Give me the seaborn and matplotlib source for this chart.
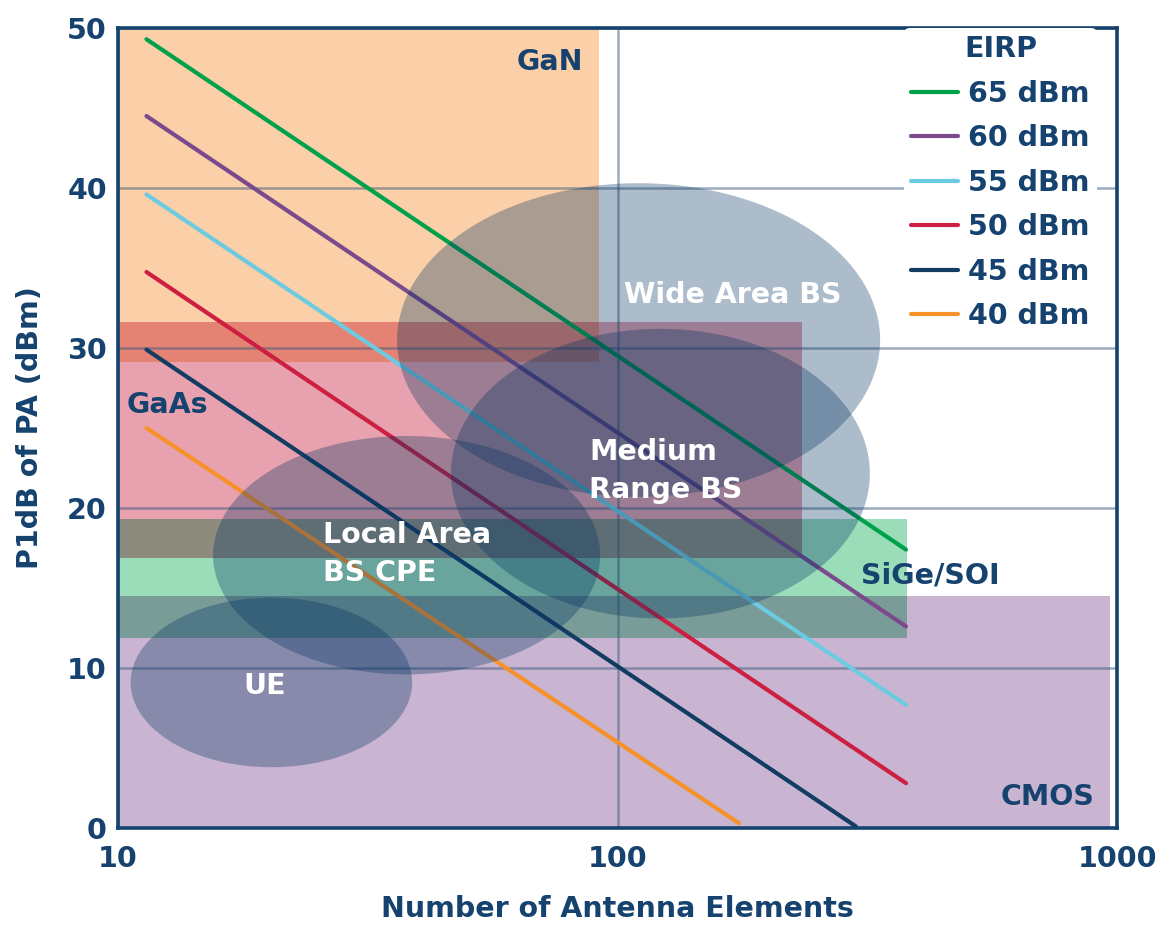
import numpy as np
import pandas as pd
import matplotlib
matplotlib.use("Agg")
import matplotlib.pyplot as plt
from matplotlib.lines import Line2D
from matplotlib.colors import to_rgb
import seaborn as sns

# ---------------- data ----------------
x_ticks = [10, 100, 1000]
x_tick_labels = ["10", "100", "1000"]
y_ticks = [0, 10, 20, 30, 40, 50]

eirp_labels = ["65 dBm", "60 dBm", "55 dBm", "50 dBm", "45 dBm", "40 dBm"]
eirp_colors = ["#00a14b", "#7b4a8c", "#6ccbe0", "#cc1f41", "#133c63", "#f7922a"]
line_n_start = [11.4, 11.4, 11.4, 11.4, 11.4, 11.4]
line_n_end = [378, 378, 378, 378, 300, 175]
line_p_start = [49.3, 44.5, 39.6, 34.75, 29.9, 25.0]
line_p_end = [17.4, 12.6, 7.7, 2.8, 0.1, 0.3]

tech_names = ["GaN", "GaAs", "SiGe/SOI", "CMOS"]
tech_n_min = [10, 10, 10, 10]
tech_n_max = [92, 234, 379, 970]
tech_p_min = [29.1, 16.9, 11.9, 0.0]
tech_p_max = [50.0, 31.6, 19.3, 14.5]
tech_colors = ["#fbd0a8", "#e8a1ae", "#9bdcb9", "#c9b5d1"]

app_names = ["Wide Area BS", "Medium Range BS", "Local Area BS CPE", "UE"]
app_n_min = [36.2, 46.4, 15.5, 10.6]
app_n_max = [335.5, 320.0, 92.3, 38.8]
app_p_min = [20.7, 13.1, 9.6, 3.8]
app_p_max = [40.3, 31.2, 24.5, 14.4]

NAVY = "#15426e"

# ---------------- style ----------------
sns.set_theme(style="white")
plt.rcParams["font.family"] = ["DejaVu Sans"]
plt.rcParams["font.weight"] = "bold"
plt.rcParams["axes.labelweight"] = "bold"
FS = 20.5

fig, ax = plt.subplots(figsize=(11.72, 9.34), dpi=100)
fig.subplots_adjust(left=0.1007, right=0.9531, top=0.970, bottom=0.1135)
ax.set_xscale("log")

# technology regions (multiply-blended overlaps)
for i in range(len(tech_names)):
    ax.fill_between([tech_n_min[i], tech_n_max[i]], tech_p_min[i], tech_p_max[i],
                    color=tech_colors[i], lw=0, zorder=1)
for i in range(len(tech_names)):
    for j in range(i + 1, len(tech_names)):
        x0 = max(tech_n_min[i], tech_n_min[j]); x1 = min(tech_n_max[i], tech_n_max[j])
        y0 = max(tech_p_min[i], tech_p_min[j]); y1 = min(tech_p_max[i], tech_p_max[j])
        if x1 > x0 and y1 > y0:
            c = tuple(a * b for a, b in zip(to_rgb(tech_colors[i]), to_rgb(tech_colors[j])))
            ax.fill_between([x0, x1], y0, y1, color=c, lw=0, zorder=1.1)

# EIRP lines
rows = []
for lab, n0, n1, p0, p1 in zip(eirp_labels, line_n_start, line_n_end, line_p_start, line_p_end):
    rows.append({"N": n0, "P": p0, "EIRP": lab})
    rows.append({"N": n1, "P": p1, "EIRP": lab})
df = pd.DataFrame(rows)
sns.lineplot(data=df, x="N", y="P", hue="EIRP", hue_order=eirp_labels,
             palette=dict(zip(eirp_labels, eirp_colors)), estimator=None, sort=False,
             lw=3, legend=False, ax=ax, zorder=2)

# application ellipses (in log-x space)
t = np.linspace(0, 2 * np.pi, 500)
for i in range(len(app_names)):
    l0, l1 = np.log10(app_n_min[i]), np.log10(app_n_max[i])
    cx, a = (l0 + l1) / 2, (l1 - l0) / 2
    cy, b = (app_p_min[i] + app_p_max[i]) / 2, (app_p_max[i] - app_p_min[i]) / 2
    ax.fill(10 ** (cx + a * np.cos(t)), cy + b * np.sin(t), color="#003160",
            alpha=0.32, lw=0, zorder=3)

# labels
txt = dict(fontsize=FS, fontweight="bold", zorder=4)
ax.text(73.3, 47.9, "GaN", color=NAVY, ha="center", va="center", **txt)
ax.text(10.42, 26.45, "GaAs", color=NAVY, ha="left", va="center", **txt)
ax.text(170, 33.3, "Wide Area BS", color="white", ha="center", va="center", **txt)
ax.text(87.7, 22.3, "Medium\nRange BS", color="white", ha="left", va="center",
        linespacing=1.45, **txt)
ax.text(25.7, 17.1, "Local Area\nBS CPE", color="white", ha="left", va="center",
        linespacing=1.45, **txt)
ax.text(19.7, 8.9, "UE", color="white", ha="center", va="center", **txt)
ax.text(307, 15.77, "SiGe/SOI", color=NAVY, ha="left", va="center", **txt)
ax.text(727, 1.96, "CMOS", color=NAVY, ha="center", va="center", **txt)

# axes
ax.set_xlim(10, 1000)
ax.set_ylim(0, 50)
ax.set_xticks(x_ticks)
ax.set_xticklabels(x_tick_labels)
ax.xaxis.set_minor_locator(matplotlib.ticker.NullLocator())
ax.set_yticks(y_ticks)
ax.tick_params(axis="both", length=0, labelsize=FS, labelcolor=NAVY)
ax.tick_params(axis="x", pad=12)
ax.tick_params(axis="y", pad=8)
for lab in ax.get_xticklabels() + ax.get_yticklabels():
    lab.set_fontweight("bold")

ax.set_axisbelow("line")
ax.grid(True, which="major", color="#3a5a7a", alpha=0.5, lw=1.8)
for s in ax.spines.values():
    s.set_color(NAVY)
    s.set_linewidth(2.6)
    s.set_zorder(5)

ax.set_xlabel("Number of Antenna Elements", fontsize=FS, color=NAVY,
              fontweight="bold", labelpad=16)
ax.set_ylabel("P1dB of PA (dBm)", fontsize=FS, color=NAVY,
              fontweight="bold", labelpad=17)

handles = [Line2D([], [], color=c, lw=3) for c in eirp_colors]
leg = ax.legend(handles, eirp_labels, title="EIRP", loc="upper right",
                bbox_to_anchor=(0.98, 1.0), borderaxespad=0, borderpad=0.25,
                frameon=True, facecolor="white", edgecolor="none", framealpha=1,
                fontsize=FS, title_fontsize=FS, handlelength=1.65,
                handletextpad=0.35, labelspacing=0.58)
leg.get_title().set_color(NAVY)
leg.get_title().set_fontweight("bold")
for tx in leg.get_texts():
    tx.set_color(NAVY)
    tx.set_fontweight("bold")
leg.set_zorder(6)

fig.savefig("out.png", dpi=100)
